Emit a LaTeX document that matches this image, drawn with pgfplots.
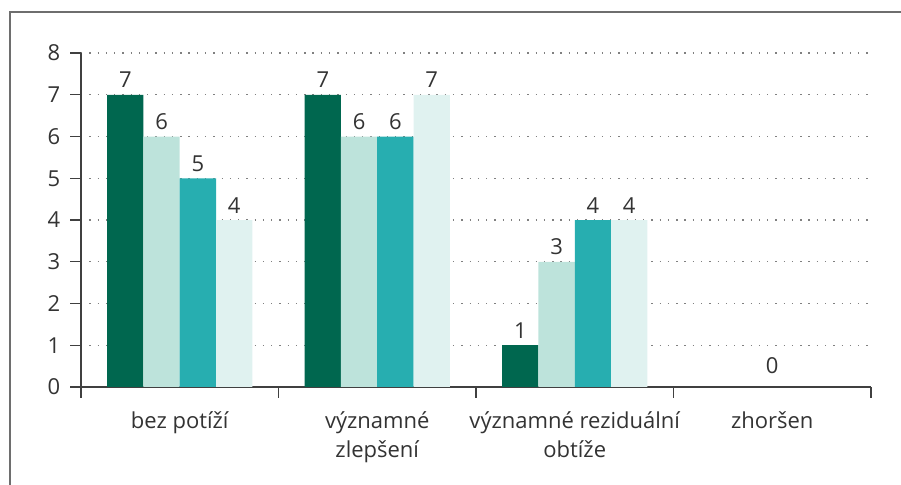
\documentclass[border=0pt]{standalone}
\usepackage{fontspec}
\setmainfont{Open Sans}
\usepackage{pgfplots}
\pgfplotsset{compat=1.18}
\definecolor{c1}{HTML}{00674F}
\definecolor{c2}{HTML}{BDE3DB}
\definecolor{c3}{HTML}{27AEB0}
\definecolor{c4}{HTML}{E0F2F0}
\definecolor{txt}{HTML}{333333}
\definecolor{framec}{HTML}{6E6E6E}
\newcommand\lblfont{\fontsize{16.5pt}{22pt}\selectfont}
\begin{document}
\begin{tikzpicture}
\begin{axis}[
  at={(0,0)}, anchor=south west,
  scale only axis, width=592.5pt, height=250.5pt,
  xmin=-0.5, xmax=3.5, ymin=0, ymax=8,
  ybar=0pt, bar width=27.2pt,
  axis x line*=bottom, axis y line*=left,
  axis line style={draw=black!75, line width=0.8pt},
  ytick={0,...,8},
  xtick={-0.5,0.5,1.5,2.5,3.5},
  xticklabels={},
  extra x ticks={0,1,2,3},
  extra x tick labels={bez potíží,{významné\\zlepšení},{významné reziduální\\obtíže},zhoršen},
  extra x tick style={major tick length=0pt, grid=none, xticklabel style={yshift=-15pt}},
  tick align=outside,
  major tick length=8pt,
  tick style={draw=black!75, line width=0.8pt},
  ymajorgrids,
  grid style={draw=black!50, line width=1pt, dash pattern=on 1pt off 5.2pt},
  /pgf/number format/assume math mode=true,
  tick label style={font=\lblfont, text=txt},
  xticklabel style={align=center},
  yticklabel style={xshift=-4pt},
  nodes near coords,
  every node near coord/.append style={font=\lblfont, text=txt, inner sep=0pt, yshift=5pt},
  clip=false,
]
\addplot[fill=c1, draw=none, bar shift=-40.8pt] coordinates {(0,7) (1,7) (2,1)};
\addplot[fill=c2, draw=none, bar shift=-13.6pt] coordinates {(0,6) (1,6) (2,3)};
\addplot[fill=c3, draw=none, bar shift=13.6pt] coordinates {(0,5) (1,6) (2,4)};
\addplot[fill=c4, draw=none, bar shift=40.8pt] coordinates {(0,4) (1,7) (2,4)};
\addplot[draw=none, fill=none, bar shift=0pt, every node near coord/.append style={yshift=5pt}] coordinates {(3,0)};
\end{axis}
\begin{scope}
\clip (-60.75pt,-73.5pt) rectangle (615pt,290.25pt);
\draw[framec, line width=1.2pt] (-53.25pt,-80pt) -- (-53.25pt,281.25pt) -- (620pt,281.25pt);
\end{scope}
\pgfresetboundingbox
\useasboundingbox (-60.75pt,-73.5pt) rectangle (615pt,290.25pt);
\end{tikzpicture}
\end{document}
